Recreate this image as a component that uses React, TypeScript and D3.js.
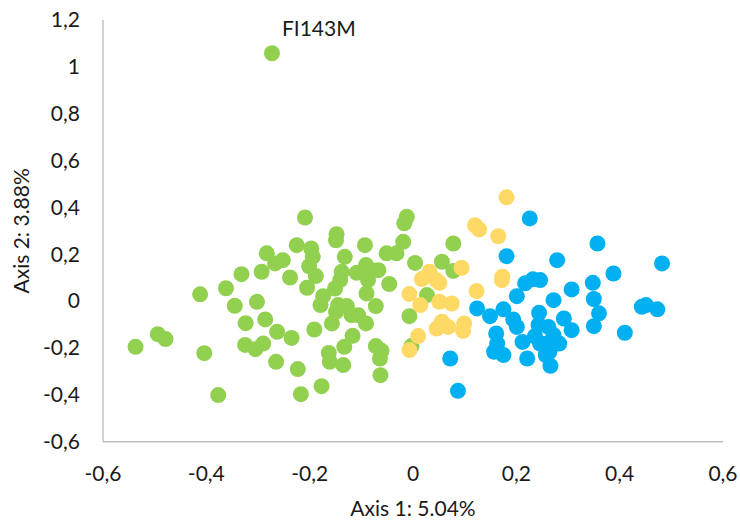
import React from "react";
import * as d3 from "d3";

// ---- Data ----
const greenPoints: [number, number][] = [
  [-0.537, -0.195], [-0.494, -0.141], [-0.479, -0.162], [-0.412, 0.029], [-0.404, -0.222],
  [-0.377, -0.401], [-0.362, 0.055], [-0.345, -0.02], [-0.332, 0.115], [-0.324, -0.094],
  [-0.325, -0.187], [-0.305, -0.205], [-0.302, -0.003], [-0.293, 0.125], [-0.283, 0.204],
  [-0.267, 0.161], [-0.252, 0.175], [-0.286, -0.078], [-0.29, -0.181], [-0.263, -0.131],
  [-0.265, -0.259], [-0.238, 0.101], [-0.235, -0.157], [-0.225, 0.239], [-0.223, -0.29],
  [-0.217, -0.397], [-0.209, 0.357], [-0.205, 0.057], [-0.201, 0.149], [-0.197, 0.225],
  [-0.194, 0.189], [-0.188, 0.107], [-0.191, -0.121], [-0.177, -0.363], [-0.174, 0.021],
  [-0.179, -0.017], [-0.163, -0.221], [-0.161, -0.259], [-0.157, -0.095], [-0.148, 0.286],
  [-0.149, 0.26], [-0.151, 0.054], [-0.145, -0.017], [-0.149, -0.046], [-0.141, 0.09],
  [-0.138, 0.125], [-0.132, 0.189], [-0.133, -0.195], [-0.135, -0.273], [-0.128, -0.021],
  [-0.119, -0.06], [-0.117, -0.148], [-0.109, 0.121], [-0.106, -0.06], [-0.093, 0.239],
  [-0.091, 0.154], [-0.08, 0.132], [-0.067, 0.132], [-0.087, 0.09], [-0.09, 0.033],
  [-0.072, -0.021], [-0.091, -0.095], [-0.072, -0.192], [-0.061, -0.212], [-0.064, -0.245],
  [-0.063, -0.316], [-0.051, 0.204], [-0.046, 0.073], [-0.032, 0.204], [-0.019, 0.253],
  [-0.017, 0.332], [-0.012, 0.36], [0.004, 0.163], [-0.007, -0.064], [-0.003, -0.192],
  [0.027, 0.026], [0.056, 0.168], [0.078, 0.246], [0.078, 0.129], [-0.273, 1.058],
];

const yellowPoints: [number, number][] = [
  [0.181, 0.443], [0.12, 0.324], [0.128, 0.306], [0.165, 0.277], [0.094, 0.142],
  [0.032, 0.125], [0.017, 0.094], [0.045, 0.09], [0.051, 0.078], [0.173, 0.104],
  [0.172, 0.09], [0.123, 0.043], [-0.007, 0.03], [0.014, -0.017], [0.051, -0.003],
  [0.075, -0.01], [0.056, -0.088], [0.046, -0.117], [0.068, -0.11], [0.099, -0.095],
  [0.097, -0.127], [0.01, -0.149], [-0.007, -0.209],
];

const bluePoints: [number, number][] = [
  [0.226, 0.353], [0.181, 0.192], [0.124, -0.031], [0.149, -0.064], [0.175, -0.035],
  [0.217, 0.076], [0.232, 0.093], [0.201, 0.021], [0.194, -0.078], [0.201, -0.11],
  [0.161, -0.138], [0.163, -0.181], [0.157, -0.216], [0.175, -0.23], [0.212, -0.174],
  [0.221, -0.245], [0.244, -0.05], [0.243, -0.102], [0.246, -0.181], [0.072, -0.245],
  [0.087, -0.383], [0.357, 0.246], [0.279, 0.175], [0.482, 0.161], [0.388, 0.118],
  [0.348, 0.078], [0.307, 0.05], [0.272, 0.004], [0.35, 0.009], [0.36, -0.052],
  [0.35, -0.107], [0.443, -0.024], [0.451, -0.017], [0.473, -0.035], [0.41, -0.135],
  [0.246, 0.09], [0.292, -0.074], [0.307, -0.124], [0.262, -0.11], [0.272, -0.145],
  [0.283, -0.181], [0.259, -0.181], [0.264, -0.216], [0.266, -0.276], [0.236, -0.15],
  [0.257, -0.23],
];

const seriesColors = ["#92D050", "#FFD966", "#00B0F0"];
const xTickValues = [-0.6, -0.4, -0.2, 0, 0.2, 0.4, 0.6];
const yTickValues = [-0.6, -0.4, -0.2, 0, 0.2, 0.4, 0.6, 0.8, 1, 1.2];
const xTitle = "Axis 1: 5.04%";
const yTitle = "Axis 2: 3.88%";
const pointLabel = { text: "FI143M", x: -0.273, y: 1.058 };

const W = 740;
const H = 520;
const FONT = "Lato, 'Open Sans', sans-serif";

export default function App() {
  const x = d3.scaleLinear().domain([-0.6, 0.6]).range([103, 723]);
  const y = d3.scaleLinear().domain([-0.6, 1.2]).range([441.7, 20]);
  const fmt = (v: number) => String(+v.toFixed(2)).replace(".", ",");
  const series = [greenPoints, yellowPoints, bluePoints];

  return (
    <svg
      width={W}
      height={H}
      style={{ position: "absolute", left: 0, top: 0, background: "#fff" }}
      fontFamily={FONT}
    >
      <rect width={W} height={H} fill="#fff" />
      {/* axes */}
      <line x1={x(-0.6)} x2={x(-0.6)} y1={y(1.2)} y2={y(-0.6)} stroke="#BFBFBF" strokeWidth={1.4} />
      <line x1={x(-0.6)} x2={x(0.6)} y1={y(-0.6)} y2={y(-0.6)} stroke="#BFBFBF" strokeWidth={1.4} />
      {/* y ticks */}
      {yTickValues.map((v) => (
        <text key={"y" + v} x={80} y={y(v)} dy="0.35em" textAnchor="end" fontSize={21} fill="#1a1a1a">
          {fmt(v)}
        </text>
      ))}
      {/* x ticks */}
      {xTickValues.map((v) => (
        <text key={"x" + v} x={x(v)} y={481} textAnchor="middle" fontSize={21} fill="#1a1a1a">
          {fmt(v)}
        </text>
      ))}
      {/* titles */}
      <text x={x(0)} y={516} textAnchor="middle" fontSize={21} fill="#1a1a1a">
        {xTitle}
      </text>
      <text
        transform={`translate(29, ${(y(1.2) + y(-0.6)) / 2}) rotate(-90)`}
        textAnchor="middle"
        fontSize={21}
        fill="#1a1a1a"
      >
        {yTitle}
      </text>
      {/* points */}
      {series.map((pts, si) => (
        <g key={si} fill={seriesColors[si]}>
          {pts.map((p, i) => (
            <circle key={i} cx={x(p[0])} cy={y(p[1])} r={8} />
          ))}
        </g>
      ))}
      {/* data label */}
      <text x={x(pointLabel.x) + 10} y={y(pointLabel.y) - 17} fontSize={21} fill="#1a1a1a">
        {pointLabel.text}
      </text>
    </svg>
  );
}
